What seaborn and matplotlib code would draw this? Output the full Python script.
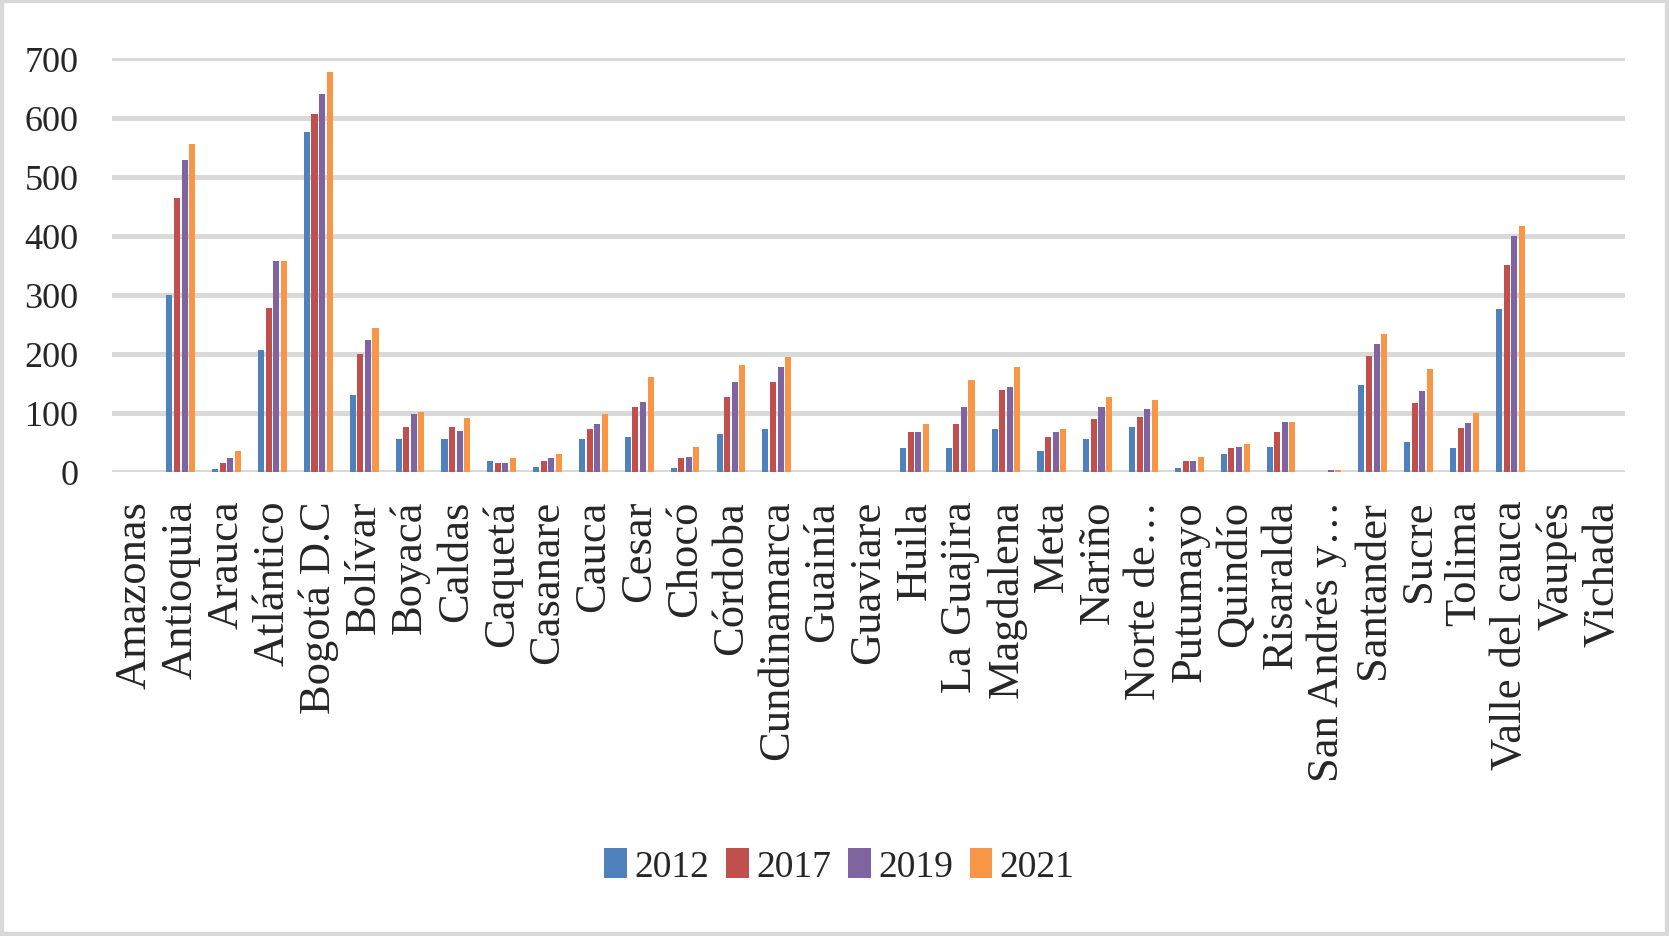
import numpy as np
import pandas as pd
import matplotlib.pyplot as plt
import seaborn as sns

# Departments (x categories) and one list of values per year
departments = ['Amazonas', 'Antioquia', 'Arauca', 'Atlántico', 'Bogotá D.C', 'Bolívar',
               'Boyacá', 'Caldas', 'Caquetá', 'Casanare', 'Cauca', 'Cesar', 'Chocó',
               'Córdoba', 'Cundinamarca', 'Guainía', 'Guaviare', 'Huila', 'La Guajira',
               'Magdalena', 'Meta', 'Nariño', 'Norte de…', 'Putumayo', 'Quindío',
               'Risaralda', 'San Andrés y…', 'Santander', 'Sucre', 'Tolima',
               'Valle del cauca', 'Vaupés', 'Vichada']
years = ['2012', '2017', '2019', '2021']
v2012 = [0, 300, 5, 207, 576, 131, 56, 56, 18, 9, 56, 60, 6, 65, 73, 0, 0, 40, 40,
         73, 35, 56, 77, 6, 31, 43, 0, 148, 51, 40, 276, 0, 0]
v2017 = [0, 463, 15, 278, 606, 199, 77, 77, 15, 18, 73, 110, 23, 127, 152, 0, 0, 68, 82,
         139, 60, 90, 93, 18, 40, 68, 0, 196, 116, 74, 351, 0, 0]
v2019 = [0, 528, 23, 358, 640, 224, 99, 69, 15, 23, 82, 118, 26, 152, 177, 0, 0, 68, 110,
         144, 68, 110, 107, 18, 43, 85, 3, 217, 137, 83, 399, 0, 0]
v2021 = [0, 556, 35, 358, 677, 244, 102, 91, 23, 31, 98, 161, 43, 181, 194, 0, 0, 82, 156,
         177, 73, 127, 122, 26, 48, 85, 3, 234, 174, 100, 416, 0, 0]
colors = ['#4F81BD', '#C0504D', '#8064A2', '#F79646']

wide = pd.DataFrame({'dept': departments, '2012': v2012, '2017': v2017,
                     '2019': v2019, '2021': v2021})
df = wide.melt(id_vars='dept', var_name='year', value_name='value')

sns.set_style('white')
plt.rcParams['font.family'] = ['Liberation Serif', 'DejaVu Serif']

fig = plt.figure(figsize=(16.69, 9.37), dpi=100)
ax = fig.add_axes([0.0671, 0.4952, 0.9065, 0.4413])

sns.barplot(data=df, x='dept', y='value', hue='year', hue_order=years,
            palette=colors, saturation=1, width=0.66, gap=0.2, linewidth=0, ax=ax)

ax.set_ylim(0, 700)
ax.set_yticks(range(0, 701, 100))
ax.set_xlim(-0.5, len(departments) - 0.5)
ax.yaxis.grid(True, color='#D9D9D9', linewidth=3.6)
ax.set_axisbelow(True)
for s in ax.spines.values():
    s.set_visible(False)
ax.set_xlabel('')
ax.set_ylabel('')
ax.tick_params(axis='y', length=0, pad=24, labelsize=26)
ax.tick_params(axis='x', length=0, pad=20, labelsize=32)
plt.setp(ax.get_xticklabels(), rotation=90, ha='center', va='top')

ax.legend(loc='center', bbox_to_anchor=(0.503, 0.075), bbox_transform=fig.transFigure,
          ncol=4, frameon=False, fontsize=27, handlelength=0.6, handleheight=0.85,
          handletextpad=0.2, columnspacing=0.45)

# light grey frame around the whole picture
fig.patches.append(plt.Rectangle((0, 0), 1, 1, transform=fig.transFigure, fill=False,
                                 edgecolor='#D9D9D9', linewidth=6))

fig.savefig('out.png', dpi=100, facecolor='white')
